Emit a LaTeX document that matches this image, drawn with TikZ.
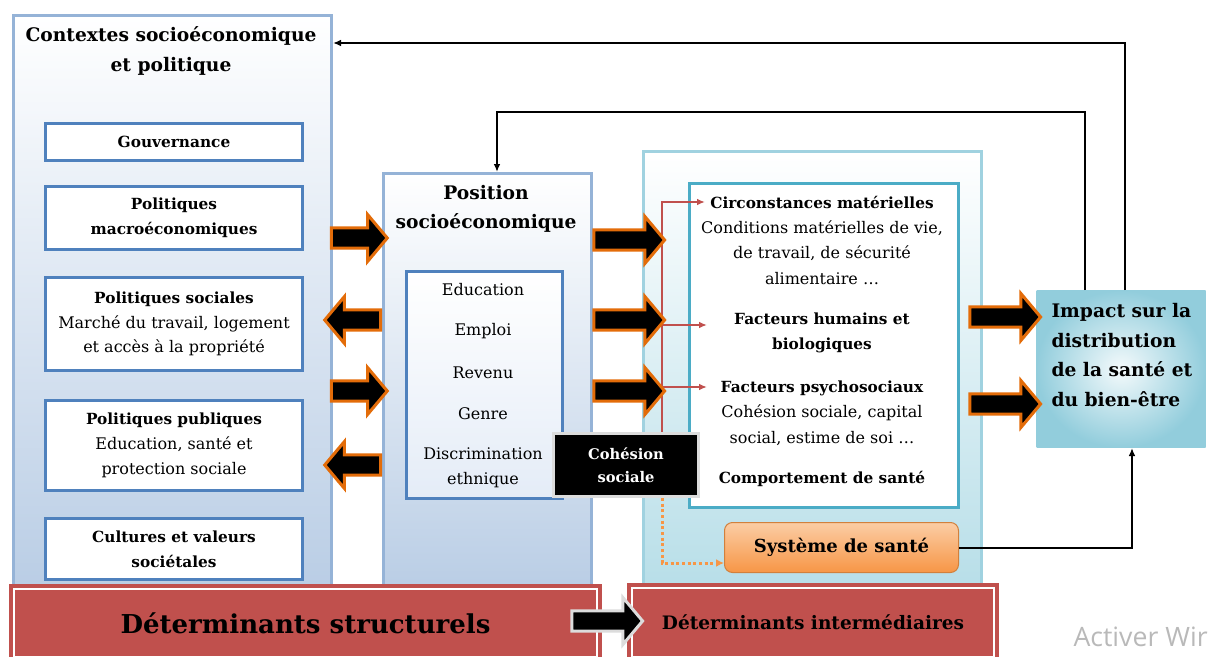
\documentclass[tikz,border=0pt]{standalone}
\usepackage{fontspec}
\setmainfont{DejaVu Serif}
\newfontfamily\wmfont{Open Sans}
\usetikzlibrary{shapes.arrows,arrows.meta,calc,positioning}

\definecolor{ctxblue}{RGB}{149,179,215}
\definecolor{ctxfill}{RGB}{185,205,229}
\definecolor{boxblue}{RGB}{79,129,189}
\definecolor{posinfill}{RGB}{228,236,247}
\definecolor{aqualine}{RGB}{160,210,224}
\definecolor{aquafill}{RGB}{183,222,232}
\definecolor{aquadark}{RGB}{146,205,220}
\definecolor{tealline}{RGB}{75,172,198}
\definecolor{redbar}{RGB}{192,80,77}
\definecolor{orangeline}{RGB}{227,108,9}
\definecolor{orangefill}{RGB}{247,150,70}
\definecolor{orangelight}{RGB}{251,205,165}
\definecolor{cohgray}{RGB}{220,220,220}
\definecolor{wmgray}{RGB}{185,185,185}

\tikzset{every picture/.style={line width=0.75pt}}
\tikzset{
  bigbox/.style={draw=ctxblue, line width=2.25pt, top color=white, bottom color=ctxfill, anchor=north west, inner sep=0pt},
  aquabox/.style={draw=aqualine, line width=2.25pt, top color=white, bottom color=aquafill, anchor=north west, inner sep=0pt},
  polbox/.style={draw=boxblue, line width=2.25pt, fill=white, anchor=north west, minimum width=192.75pt, align=center, inner sep=0pt, font=\fontsize{12}{18.5}\selectfont},
  ttl/.style={align=center, inner sep=0.75pt, font=\fontsize{14}{22}\selectfont\bfseries},
  body/.style={align=center, inner sep=0.75pt, font=\fontsize{12}{19}\selectfont},
  fatarr/.style={single arrow, draw=orangeline, fill=black, line width=2.25pt, inner sep=6.5pt, single arrow head extend=10pt, single arrow tip angle=100, minimum height=42pt},
  redln/.style={draw=redbar, line width=1.5pt, -{Latex[length=6pt,width=5pt]}},
  fb/.style={draw=black, line width=1.5pt, -{Latex[length=6pt,width=5pt]}},
  redbox/.style={fill=redbar, draw=redbar, double=white, double distance=1.2pt, line width=3pt, anchor=north west, inner sep=0pt}
}
\newcommand{\hb}[1]{{\fontsize{11.5}{18.5}\selectfont\bfseries #1}}

\begin{document}
\begin{tikzpicture}[x=0.75pt,y=0.75pt,yscale=-1,xscale=1]
\useasboundingbox (0,0) rectangle (1215,657);

% Contextes socioeconomique et politique
\node [bigbox, minimum width=238.5pt, minimum height=432pt] (ctx) at (12,14) {};
\node [ttl] (ctxt) at (171,51) {Contextes socioéconomique\\et politique};
\node [polbox, minimum height=27.75pt] (gov) at (44,122) {\hb{Gouvernance}};
\node [polbox, minimum height=47.25pt] (macro) at (44,185) {\hb{Politiques}\\\hb{macroéconomiques}};
\node [polbox, minimum height=69.75pt] (soc) at (44,276) {\hb{Politiques sociales}\\Marché du travail, logement\\et accès à la propriété};
\node [polbox, minimum height=67.5pt] (pub) at (44,399) {\hb{Politiques publiques}\\Education, santé et\\protection sociale};
\node [polbox, minimum height=45.75pt] (cult) at (44,517) {\hb{Cultures et valeurs}\\\hb{sociétales}};

% Position socioeconomique
\node [bigbox, minimum width=156pt, minimum height=313.5pt] (pos) at (382,172) {};
\node [ttl] (post) at (486,209) {Position\\socioéconomique};
\node [draw=boxblue, line width=2.25pt, top color=white, bottom color=posinfill, anchor=north west, inner sep=0pt, minimum width=117pt, minimum height=170.25pt] (posin) at (405,270) {};
\foreach \t [count=\i] in {Education,Emploi,Revenu,Genre}
  \node [body] (item\i) at (483,{290+41.3*(\i-1)}) {\t};
\node [body] (item5) at (483,468) {Discrimination\\ethnique};

% Determinants intermediaires
\node [aquabox, minimum width=253.5pt, minimum height=330pt] (inter) at (642,150) {};
\node [draw=tealline, line width=2.25pt, fill=white, anchor=north west, inner sep=0pt, minimum width=201.75pt, minimum height=243pt] (interin) at (688,182) {};
\node [body] (circ) at (822,240) {\hb{Circonstances matérielles}\\Conditions matérielles de vie,\\de travail, de sécurité\\alimentaire \dots};
\node [body] (hum) at (822,333) {\hb{Facteurs humains et}\\\hb{biologiques}};
\node [body] (psy) at (822,413) {\hb{Facteurs psychosociaux}\\Cohésion sociale, capital\\social, estime de soi \dots};
\node [body] (comp) at (822,479) {\hb{Comportement de santé}};

% red links
\coordinate (rb) at (662,432);
\coordinate (tcirc) at (705,202);
\coordinate (rhum) at (662,325);
\coordinate (thum) at (707,325);
\coordinate (rpsy) at (662,387);
\coordinate (tpsy) at (707,387);
\draw [redln] (rb) |- (tcirc);
\draw [redln] (rhum) -- (thum);
\draw [redln] (rpsy) -- (tpsy);

% Cohesion sociale
\node [fill=black, draw=cohgray, line width=2.25pt, text=white, anchor=north west, inner sep=0pt, minimum width=108.75pt, minimum height=47.25pt, align=center, font=\fontsize{11}{17.5}\selectfont\bfseries] (coh) at (552,432) {Cohésion\\sociale};

% Systeme de sante
\node [rounded corners=6pt, top color=orangelight, bottom color=orangefill, draw=orangefill!85!black, line width=0.75pt, anchor=north west, inner sep=0pt, minimum width=175.5pt, minimum height=37.5pt, font=\fontsize{13.5}{16}\selectfont\bfseries] (sys) at (724,522) {Système de santé};
\coordinate (dtop) at (662,498);
\draw [draw=orangefill, line width=2.25pt, dotted, -{Latex[length=6pt,width=6pt]}] (dtop) |- ($(sys.south west)+(0,-10)$);

% Impact
\node [shading=radial, inner color=white!85!aquafill, outer color=aquadark, anchor=north west, inner sep=0pt, minimum width=126.75pt, minimum height=117.75pt] (imp) at (1036,290) {};
\node [anchor=west, align=left, inner sep=0.75pt, font=\fontsize{14}{22.3}\selectfont\bfseries] (impt) at (1050,355) {Impact sur la\\distribution\\de la santé et\\du bien-être};

% fat arrows
\node [fatarr] (fa1) at (355,238) {};
\node [fatarr, shape border rotate=180] (fa2) at (357,320) {};
\node [fatarr] (fa3) at (355,391) {};
\node [fatarr, shape border rotate=180] (fa4) at (357,465) {};
\node [fatarr, minimum height=53pt] (fa5) at (625,240) {};
\node [fatarr, minimum height=53pt] (fa6) at (625,320) {};
\node [fatarr, minimum height=53pt] (fa7) at (625,391) {};
\node [fatarr, minimum height=53pt] (fa8) at (1001,317) {};
\node [fatarr, minimum height=53pt] (fa9) at (1001,404) {};

% feedback lines
\draw [fb] ($(imp.north west)+(49,0)$) |- (497,112) -- (497,172);
\draw [fb] ($(imp.north west)+(89,0)$) |- (ctx.east |- 0,43);
\draw [fb] (sys.east) -| ($(imp.south west)+(96,0)$);

% bottom bars
\node [redbox, minimum width=437.25pt, minimum height=51pt, font=\fontsize{19.5}{22}\selectfont\bfseries] (dstr) at (12,587) {Déterminants structurels};
\node [redbox, minimum width=271.5pt, minimum height=51.75pt, font=\fontsize{13.9}{17}\selectfont\bfseries] (dint) at (630,586) {Déterminants intermédiaires};
\node [fatarr, draw=cohgray, minimum height=53pt] (fa10) at (603,621) {};

% watermark
\node [anchor=west, text=wmgray, inner sep=0pt, font=\fontsize{20}{24}\wmfont] (wm) at (1073,637) {Activer Wir};

\end{tikzpicture}
\end{document}
